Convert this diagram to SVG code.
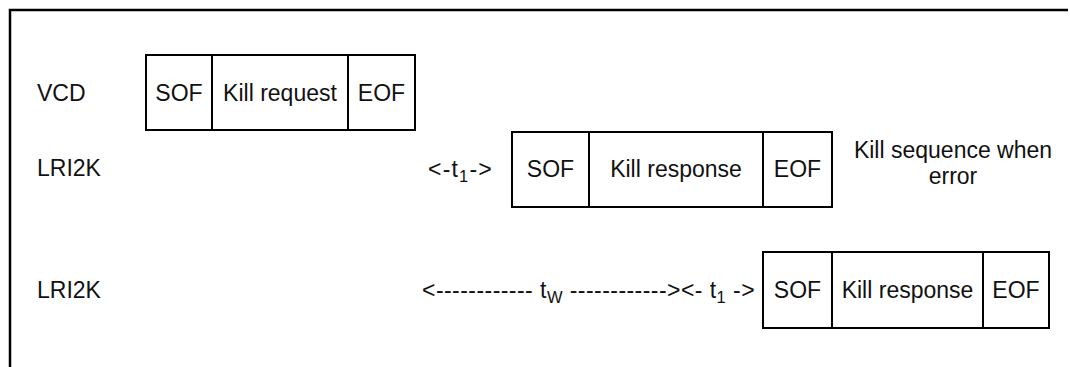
<svg xmlns="http://www.w3.org/2000/svg" width="1070" height="367" viewBox="0 0 1070 367">
  <style>
    .frame { fill: none; stroke: #000; stroke-width: 2.5; }
    .cell { fill: #fff; stroke: #000; stroke-width: 2; }
    .t { font-family: "Liberation Sans", Arial, sans-serif; font-size: 23px; fill: #111; }
    .c { text-anchor: middle; }
    .sub { font-size: 16.5px; }
    .wide { letter-spacing: 0.45px; }
  </style>
  <rect x="0" y="0" width="1070" height="367" fill="#fff"/>
  <path class="frame" d="M10,368 V10 H1068"/>

  <g id="label-vcd"><text class="t" x="37" y="100.5">VCD</text></g>
  <g id="label-lri2k-1"><text class="t" x="37" y="176">LRI2K</text></g>
  <g id="label-lri2k-2"><text class="t" x="37" y="298">LRI2K</text></g>

  <g id="vcd-sof"><rect class="cell" x="146" y="55" width="66" height="75"/><text class="t c" x="179" y="100.5">SOF</text></g>
  <g id="vcd-kill-request"><rect class="cell" x="212" y="55" width="136" height="75"/><text class="t c" x="280" y="100.5">Kill request</text></g>
  <g id="vcd-eof"><rect class="cell" x="348" y="55" width="67" height="75"/><text class="t c" x="381.5" y="100.5">EOF</text></g>

  <g id="resp1-sof"><rect class="cell" x="512" y="132" width="77" height="75"/><text class="t c" x="550.5" y="177">SOF</text></g>
  <g id="resp1-kill-response"><rect class="cell" x="589" y="132" width="174" height="75"/><text class="t c" x="676" y="177">Kill response</text></g>
  <g id="resp1-eof"><rect class="cell" x="763" y="132" width="69" height="75"/><text class="t c" x="797.5" y="177">EOF</text></g>

  <g id="note"><text class="t c" x="953" y="158">Kill sequence when</text><text class="t c" x="953" y="184">error</text></g>

  <g id="resp2-sof"><rect class="cell" x="763" y="252" width="69" height="76"/><text class="t c" x="797.5" y="298">SOF</text></g>
  <g id="resp2-kill-response"><rect class="cell" x="832" y="252" width="151" height="76"/><text class="t c" x="907.5" y="298">Kill response</text></g>
  <g id="resp2-eof"><rect class="cell" x="983" y="252" width="66" height="76"/><text class="t c" x="1016" y="298">EOF</text></g>

  <g id="connectors">
    <text class="t" x="428" y="177" style="letter-spacing:1.2px">&lt;-t<tspan class="sub" dy="5">1</tspan><tspan dy="-5">-&gt;</tspan></text>
    <text class="t wide" x="422" y="298" xml:space="preserve">&lt;------------ t<tspan class="sub" dy="5">W</tspan><tspan dy="-5"> ------------&gt;&lt;- t</tspan><tspan class="sub" dy="5">1</tspan><tspan dy="-5"> -&gt;</tspan></text>
  </g>
</svg>
